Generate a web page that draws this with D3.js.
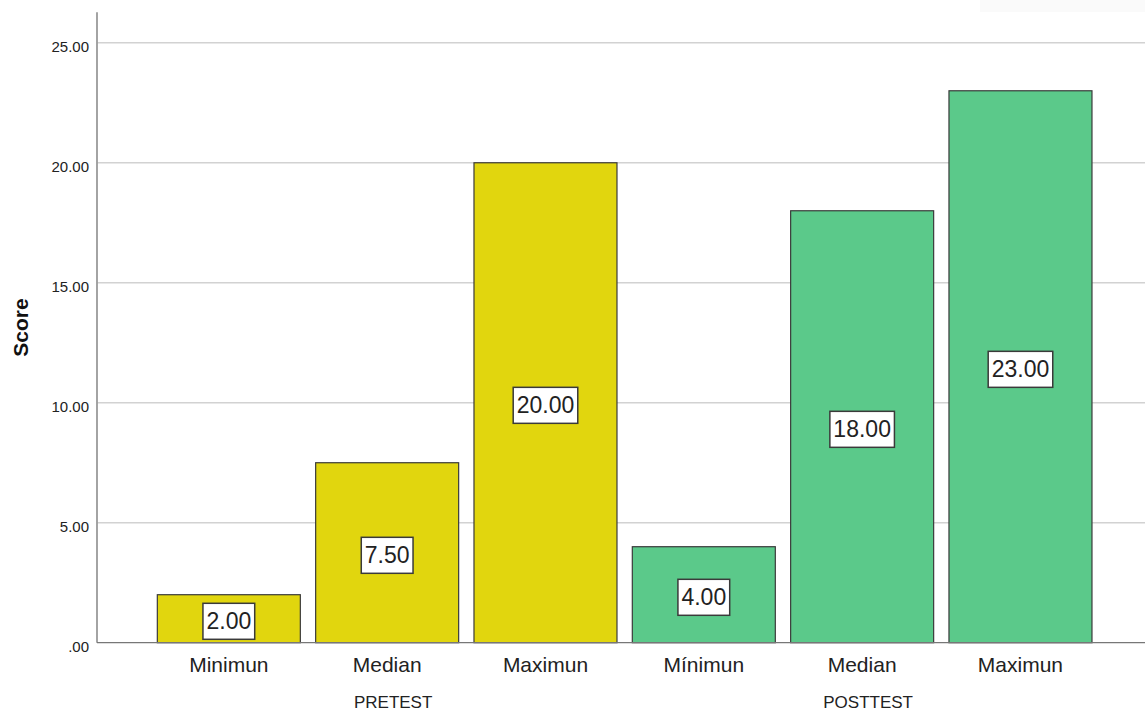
<!DOCTYPE html>
<html>
<head>
<meta charset="utf-8">
<script src="https://cdn.jsdelivr.net/npm/d3@7"></script>
<style>
  html, body { margin: 0; padding: 0; background: #fff; }
  svg { display: block; font-family: "Liberation Sans", Arial, sans-serif; }
</style>
</head>
<body>
<svg id="chart" width="1145" height="713"></svg>
<script>
// Score summary by test phase
const categories = ["Minimun", "Median", "Maximun", "Mínimun", "Median", "Maximun"];
const groups = ["PRETEST", "PRETEST", "PRETEST", "POSTTEST", "POSTTEST", "POSTTEST"];
const values = [2.00, 7.50, 20.00, 4.00, 18.00, 23.00];
const groupNames = ["PRETEST", "POSTTEST"];
const groupColors = ["#e1d60e", "#5bc98a"];
const yTicks = [0, 5, 10, 15, 20, 25];
const yTickLabels = [".00", "5.00", "10.00", "15.00", "20.00", "25.00"];

const W = 1145, H = 713;
const svg = d3.select("#chart");

const axisX = 97;
const x = d3.scaleBand()
  .domain(d3.range(categories.length))
  .range([axisX, 1152.3])
  .paddingInner(0.0968)
  .paddingOuter(0.381);

const y = d3.scaleLinear()
  .domain([0, 26.27])
  .range([642.7, 12.3]);

const color = d3.scaleOrdinal().domain(groupNames).range(groupColors);

// faint panel at the top right
svg.append("rect")
  .attr("x", 980).attr("y", 0).attr("width", W - 980).attr("height", 12)
  .attr("fill", "#fafafa");

// horizontal grid lines
svg.append("g")
  .selectAll("line")
  .data(yTicks.filter(d => d > 0))
  .join("line")
  .attr("x1", axisX).attr("x2", W)
  .attr("y1", d => y(d)).attr("y2", d => y(d))
  .attr("stroke", "#d2d2d2")
  .attr("stroke-width", 1.6);

// y axis with tick labels
const yAxis = d3.axisLeft(y)
  .tickValues(yTicks)
  .tickFormat((d, i) => yTickLabels[i])
  .tickSize(0)
  .tickPadding(8);

const gy = svg.append("g")
  .attr("transform", `translate(${axisX},0)`)
  .call(yAxis);
gy.select(".domain").remove();
gy.selectAll("text")
  .attr("font-size", 15)
  .attr("fill", "#222")
  .attr("dy", "0.6em")
  .attr("font-family", "'Liberation Sans', Arial, sans-serif");

svg.append("line")
  .attr("x1", axisX).attr("x2", axisX)
  .attr("y1", y.range()[1]).attr("y2", y(0))
  .attr("stroke", "#9a9a9a")
  .attr("stroke-width", 1.8);

// bars
svg.append("g")
  .selectAll("rect")
  .data(values)
  .join("rect")
  .attr("x", (d, i) => x(i))
  .attr("y", d => y(d))
  .attr("width", x.bandwidth())
  .attr("height", d => y(0) - y(d))
  .attr("fill", (d, i) => color(groups[i]))
  .attr("stroke", "#3a3a3a")
  .attr("stroke-width", 1.2);

// baseline
svg.append("line")
  .attr("x1", axisX).attr("x2", W)
  .attr("y1", y(0)).attr("y2", y(0))
  .attr("stroke", "#777")
  .attr("stroke-width", 1.2);

// value labels in boxes at mid-height of each bar
const lbl = svg.append("g")
  .selectAll("g")
  .data(values)
  .join("g")
  .attr("transform", (d, i) => `translate(${x(i) + x.bandwidth() / 2},${y(d / 2) + 2.6})`);

lbl.append("rect")
  .attr("fill", "#fff")
  .attr("stroke", "#3a3a3a")
  .attr("stroke-width", 1.5);

const lblText = lbl.append("text")
  .attr("text-anchor", "middle")
  .attr("dominant-baseline", "central")
  .attr("font-size", 23)
  .attr("fill", "#222")
  .text(d => d3.format(".2f")(d));

lblText.each(function () {
  const w = this.getComputedTextLength();
  d3.select(this.parentNode).select("rect")
    .attr("x", -w / 2 - 3.5)
    .attr("y", -18)
    .attr("width", w + 7)
    .attr("height", 36);
});

// category labels
svg.append("g")
  .selectAll("text")
  .data(categories)
  .join("text")
  .attr("x", (d, i) => x(i) + x.bandwidth() / 2)
  .attr("y", 672)
  .attr("text-anchor", "middle")
  .attr("font-size", 21)
  .attr("fill", "#222")
  .text(d => d);

// group labels
svg.append("g")
  .selectAll("text")
  .data(groupNames)
  .join("text")
  .attr("x", g => {
    const idx = d3.range(groups.length).filter(i => groups[i] === g);
    const left = x(idx[0]);
    const right = x(idx[idx.length - 1]) + x.bandwidth();
    return (left + right) / 2 + 6;
  })
  .attr("y", 708)
  .attr("text-anchor", "middle")
  .attr("font-size", 17)
  .attr("fill", "#222")
  .text(d => d);

// y axis title
svg.append("text")
  .attr("transform", `translate(20,${(y(0) + y.range()[1]) / 2}) rotate(-90)`)
  .attr("text-anchor", "middle")
  .attr("dominant-baseline", "central")
  .attr("font-size", 21)
  .attr("font-weight", "bold")
  .attr("fill", "#111")
  .text("Score");
</script>
</body>
</html>
